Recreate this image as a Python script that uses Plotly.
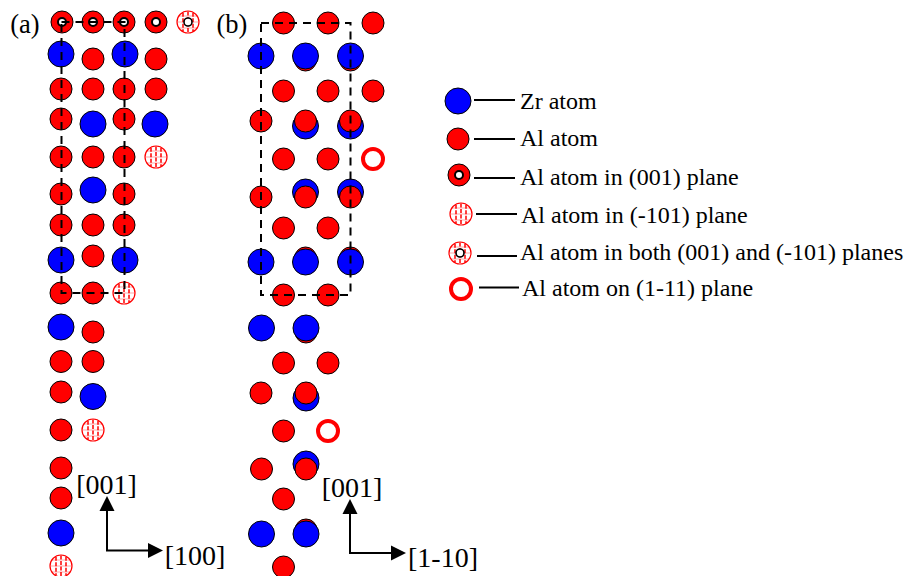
import math
import plotly.graph_objects as go

SERIF = "Liberation Serif"
RED, BLUE = "#ff0000", "#0000ff"

# ---------- atom centres (pixel scale) ----------
al_under_x = [305.5, 350.5, 305.5, 350.5, 306, 306]
al_under_y = [60, 60, 258, 258, 332, 530]

zr_x = [61, 125, 93, 155, 93, 61, 125, 61, 93, 61,
        261, 305.5, 350.5, 305.5, 350.5, 305.5, 350.5, 261, 305.5, 350.5,
        261.5, 306, 306, 306, 261.5, 306, 458]
zr_y = [54, 54, 124, 124, 190, 260, 260, 327, 396.5, 533,
        56, 56, 56, 126, 126, 192, 192, 262, 262, 262,
        328, 328, 398, 464, 534, 534, 101]

al_x = [93, 156, 61, 93, 124, 156, 61, 124, 61, 93, 124, 61, 124, 61, 93, 124, 93,
        61, 93, 93, 61, 93, 61, 61, 61, 61,
        283.5, 328, 373, 283.5, 328, 373, 261, 305.5, 350.5, 283.5, 328,
        261, 305.5, 350.5, 283.5, 328, 283.5, 328,
        283.5, 328, 261, 306, 283.5, 261.5, 306, 283.5, 283.5, 458]
al_y = [59, 59, 89, 89, 89, 89, 119, 119, 157, 157, 157, 194, 194, 225, 225, 225, 256,
        293, 293, 332, 361.5, 361.5, 392, 430, 468, 498,
        23, 23, 23, 91, 91, 91, 121, 121, 121, 159, 159,
        197, 197, 197, 228, 228, 295, 295,
        363, 363, 393, 393, 431, 469, 469, 499, 567, 139]

plane001_x = [62, 93, 124, 156, 459]
plane001_y = [22, 22, 22, 22, 175]

hatched_x = [156, 124, 93, 61, 461]
hatched_y = [157, 293, 430, 566, 214]

both_x = [188, 460]
both_y = [22, 253]

ring_x = [373, 328, 461]
ring_y = [159, 431, 289]

# ---------- unit cells and direction arrows ----------
cell_a_x = [61.5, 124.5, 124.5, 61.5, 61.5]
cell_a_y = [22, 22, 293, 293, 22]
cell_b_x = [261, 350.5, 350.5, 261, 261]
cell_b_y = [23, 23, 295, 295, 23]

corner_x = [107, 350]
corner_y = [550.5, 553]
tip_up_y = [496, 499]
tip_right_x = [163, 406]

# ---------- legend ----------
leader_x0 = [474, 474, 474, 476, 477, 479]
leader_x1 = [515, 515, 515, 517, 517, 519]
leader_y = [100, 139, 178, 214, 256, 287.5]
legend_text = ["Zr atom", "Al atom", "Al atom in (001) plane", "Al atom in (-101) plane",
               "Al atom in both (001) and (-101) planes", "Al atom on (1-11) plane"]
legend_tx = [520, 520, 520, 521, 520, 522]
legend_ty = [103, 140, 179, 217, 254, 290]

labels = ["(a)", "(b)", "[001]", "[100]", "[001]", "[1-10]"]
labels_x = [25, 232, 106.5, 195, 352, 443]
labels_y = [26, 26, 487, 558, 490, 560]

fig = go.Figure()


def atoms(x, y, size, fill, line="black", lw=1.0):
    fig.add_trace(go.Scatter(x=x, y=y, mode="markers", hoverinfo="skip",
                             marker=dict(size=size, color=fill, symbol="circle",
                                         line=dict(color=line, width=lw))))


def hatch(x, y):
    """Red gridded fill of the atoms lying in the (-101) plane."""
    r = 10.6
    vx, vy, hx, hy = [], [], [], []
    for cx, cy in zip(x, y):
        for dx in (-5, 0, 5):
            h = math.sqrt(r * r - dx * dx)
            vx += [cx + dx, cx + dx, None]
            vy += [cy - h, cy + h, None]
        for dy in (-6, 0, 6):
            w = math.sqrt(r * r - dy * dy)
            hx += [cx - w, cx + w, None]
            hy += [cy + dy, cy + dy, None]
    fig.add_trace(go.Scatter(x=vx, y=vy, mode="lines", hoverinfo="skip",
                             line=dict(color=RED, width=1.5, dash="4px,1.5px")))
    fig.add_trace(go.Scatter(x=hx, y=hy, mode="lines", hoverinfo="skip",
                             line=dict(color="rgba(255,0,0,0.5)", width=0.7)))


atoms(al_under_x, al_under_y, 22, RED)
atoms(zr_x, zr_y, 26, BLUE)
atoms(al_x, al_y, 22, RED)
atoms(plane001_x, plane001_y, 22, RED)
atoms(plane001_x, plane001_y, 8, "white", "black", 2)
atoms(hatched_x + both_x, hatched_y + both_y, 22, "white", RED, 1.2)
hatch(hatched_x + both_x, hatched_y + both_y)
atoms(both_x, both_y, 8, "white", "black", 1.6)
atoms(ring_x, ring_y, 20, "white", RED, 4)

for cx, cy in ((cell_a_x, cell_a_y), (cell_b_x, cell_b_y)):
    fig.add_trace(go.Scatter(x=cx, y=cy, mode="lines", hoverinfo="skip",
                             line=dict(color="black", width=2, dash="8px,6px")))

HEAD_LEN, HEAD_HALF = 15, 7.5
for cx, cy, ty, tx in zip(corner_x, corner_y, tip_up_y, tip_right_x):
    fig.add_trace(go.Scatter(x=[cx, cx, tx - HEAD_LEN], y=[ty + HEAD_LEN, cy, cy], mode="lines",
                             hoverinfo="skip", line=dict(color="black", width=2)))
    fig.add_trace(go.Scatter(x=[cx - HEAD_HALF, cx, cx + HEAD_HALF, cx - HEAD_HALF],
                             y=[ty + HEAD_LEN, ty, ty + HEAD_LEN, ty + HEAD_LEN],
                             mode="lines", fill="toself", fillcolor="black", hoverinfo="skip",
                             line=dict(color="black", width=0)))
    fig.add_trace(go.Scatter(x=[tx - HEAD_LEN, tx, tx - HEAD_LEN, tx - HEAD_LEN],
                             y=[cy - HEAD_HALF, cy, cy + HEAD_HALF, cy - HEAD_HALF],
                             mode="lines", fill="toself", fillcolor="black", hoverinfo="skip",
                             line=dict(color="black", width=0)))

lx, ly = [], []
for x0, x1, y in zip(leader_x0, leader_x1, leader_y):
    lx += [x0, x1, None]
    ly += [y, y, None]
fig.add_trace(go.Scatter(x=lx, y=ly, mode="lines", hoverinfo="skip",
                         line=dict(color="black", width=2)))

fig.add_trace(go.Scatter(x=labels_x, y=labels_y, mode="text", text=labels, hoverinfo="skip",
                         textposition="middle center",
                         textfont=dict(family=SERIF, size=[26.5, 26.5, 28, 28, 28, 28], color="black")))
fig.add_trace(go.Scatter(x=legend_tx, y=legend_ty, mode="text", text=legend_text, hoverinfo="skip",
                         textposition="middle right",
                         textfont=dict(family=SERIF, size=24, color="black")))

fig.update_layout(
    width=906, height=576, showlegend=False,
    margin=dict(l=0, r=0, t=0, b=0),
    paper_bgcolor="white", plot_bgcolor="white",
    xaxis=dict(range=[0, 906], visible=False, fixedrange=True),
    yaxis=dict(range=[576, 0], visible=False, fixedrange=True),
)
fig.write_html("out.html", config={"displayModeBar": False},
               post_script="document.body.style.margin='0';document.body.style.overflow='hidden';")
